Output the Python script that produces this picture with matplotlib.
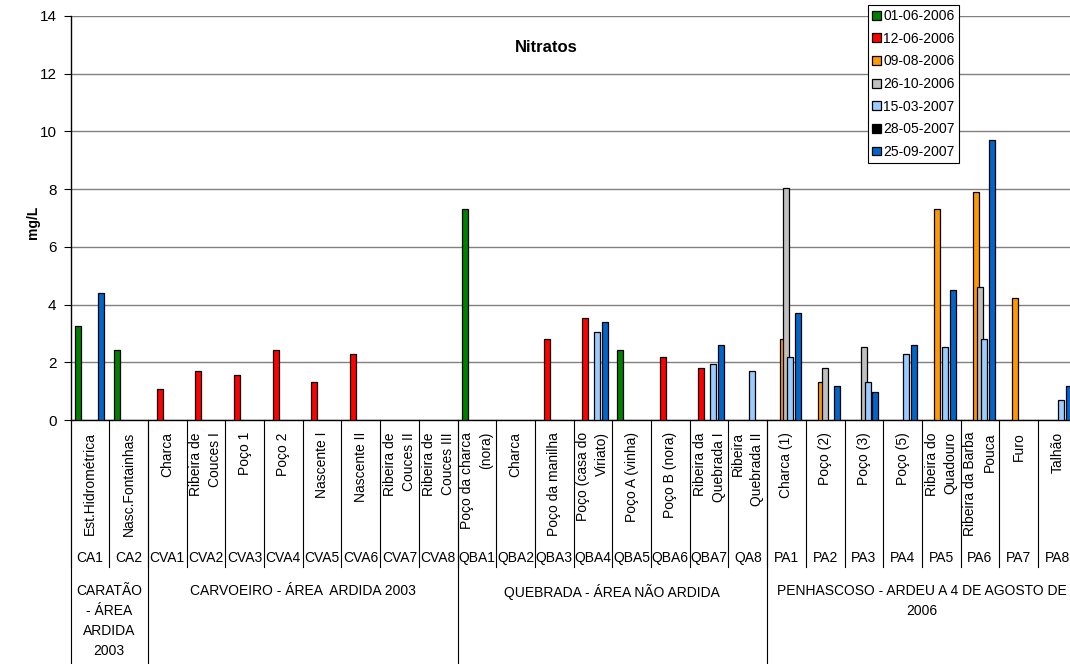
import matplotlib
matplotlib.use("Agg")
import matplotlib.pyplot as plt
import numpy as np
from matplotlib import font_manager
from matplotlib.transforms import blended_transform_factory

nan = np.nan

# sampling points (level 1 / level 2 of the category axis)
names = ["Est.Hidrométrica", "Nasc.Fontainhas",
         "Charca", "Ribeira de\nCouces I", "Poço 1", "Poço 2", "Nascente I",
         "Nascente II", "Ribeira de\nCouces II", "Ribeira de\nCouces III",
         "Poço da charca\n(nora)", "Charca", "Poço da manilha", "Poço (casa do\nViriato)",
         "Poço A (vinha)", "Poço B (nora)", "Ribeira da\nQuebrada I", "Ribeira\nQuebrada II",
         "Charca (1)", "Poço (2)", "Poço (3)", "Poço (5)", "Ribeira do\nQuadouro",
         "Ribeira da Barba\nPouca", "Furo", "Talhão"]
codes = ["CA1", "CA2",
         "CVA1", "CVA2", "CVA3", "CVA4", "CVA5", "CVA6", "CVA7", "CVA8",
         "QBA1", "QBA2", "QBA3", "QBA4", "QBA5", "QBA6", "QBA7", "QA8",
         "PA1", "PA2", "PA3", "PA4", "PA5", "PA6", "PA7", "PA8"]
groups = ["CARATÃO\n- ÁREA\nARDIDA\n2003", "CARVOEIRO - ÁREA  ARDIDA 2003",
          "QUEBRADA - ÁREA NÃO ARDIDA", "PENHASCOSO - ARDEU A 4 DE AGOSTO DE\n2006"]
group_sizes = [2, 8, 8, 8]

dates = ["01-06-2006", "12-06-2006", "09-08-2006", "26-10-2006",
         "15-03-2007", "28-05-2007", "25-09-2007"]
colors = ["#008000", "#FF0000", "#FF9900", "#C0C0C0", "#99CCFF", "#000000", "#0066CC"]

#            CA1   CA2   CVA1  CVA2  CVA3  CVA4  CVA5  CVA6  CVA7 CVA8 QBA1  QBA2 QBA3  QBA4  QBA5  QBA6  QBA7  QA8   PA1   PA2   PA3   PA4   PA5   PA6   PA7   PA8
d_01_06_06 = [3.27, 2.42, nan,  nan,  nan,  nan,  nan,  nan,  nan, nan, 7.30, nan, nan,  nan,  2.42, nan,  nan,  nan,  nan,  nan,  nan,  nan,  nan,  nan,  nan,  nan]
d_12_06_06 = [nan,  nan,  1.09, 1.70, 1.57, 2.42, 1.33, 2.30, nan, nan, nan,  nan, 2.79, 3.52, nan,  2.17, 1.81, nan,  nan,  nan,  nan,  nan,  nan,  nan,  nan,  nan]
d_09_08_06 = [nan,  nan,  nan,  nan,  nan,  nan,  nan,  nan,  nan, nan, nan,  nan, nan,  nan,  nan,  nan,  nan,  nan,  2.81, 1.33, nan,  nan,  7.30, 7.90, 4.24, nan]
d_26_10_06 = [nan,  nan,  nan,  nan,  nan,  nan,  nan,  nan,  nan, nan, nan,  nan, nan,  nan,  nan,  nan,  nan,  nan,  8.04, 1.81, 2.54, nan,  nan,  4.61, nan,  nan]
d_15_03_07 = [nan,  nan,  nan,  nan,  nan,  nan,  nan,  nan,  nan, nan, nan,  nan, nan,  3.05, nan,  nan,  1.94, 1.70, 2.17, nan,  1.33, 2.30, 2.54, 2.79, nan,  0.70]
d_28_05_07 = [nan] * 26
d_25_09_07 = [4.39, nan,  nan,  nan,  nan,  nan,  nan,  nan,  nan, nan, nan,  nan, nan,  3.39, nan,  nan,  2.60, nan,  3.70, 1.19, 0.98, 2.60, 4.49, 9.70, nan,  1.19]

series = [d_01_06_06, d_12_06_06, d_09_08_06, d_26_10_06, d_15_03_07, d_28_05_07, d_25_09_07]

installed = {f.name for f in font_manager.fontManager.ttflist}
if "Liberation Sans Narrow" in installed:
    fam = ["Liberation Sans Narrow", "DejaVu Sans"]
    fs = 11.5
else:
    fam = ["Liberation Sans", "DejaVu Sans"]
    fs = 10
plt.rcParams["font.family"] = fam

W, H = 1070, 664


def fy(px):
    return 1 - px / H


fig = plt.figure(figsize=(W / 100, H / 100), dpi=100)
col_w = 38.7
ax = fig.add_axes([70.5 / W, fy(420), len(codes) * col_w / W, (420 - 15.8) / H])

x = np.arange(len(codes))
step, width = 0.1, 0.155
for k, (vals, c, lab) in enumerate(zip(series, colors, dates)):
    ax.bar(x + (k - 3) * step, np.array(vals, dtype=float), width, color=c,
           edgecolor="black", linewidth=0.9, label=lab, zorder=3)

ax.set_xlim(-0.5, len(codes) - 0.5)
ax.set_ylim(0, 14)
ax.set_yticks(np.arange(0, 15, 2))
ax.set_xticks([])
ax.yaxis.grid(True, color="#808080", linewidth=1)
ax.set_axisbelow(True)
for s in ["top", "right"]:
    ax.spines[s].set_visible(False)
ax.spines["left"].set_linewidth(1)
ax.spines["bottom"].set_linewidth(1)
ax.tick_params(axis="y", direction="out", length=5, width=0.8, labelsize=fs + 1, pad=5)

fig.text(546 / W, fy(48), "Nitratos", ha="center", va="center", fontsize=12, fontweight="bold")
fig.text(33 / W, fy(222), "mg/L", ha="center", va="center", rotation=90, fontsize=10,
         fontweight="bold")

leg = ax.legend(loc="upper left", bbox_to_anchor=(868 / W, fy(5)), bbox_transform=fig.transFigure,
                fontsize=fs, frameon=True, fancybox=False, framealpha=1, edgecolor="black",
                handlelength=0.6, handleheight=0.6, handletextpad=0.2, labelspacing=0.62,
                borderpad=0.3, borderaxespad=0)
leg.get_frame().set_linewidth(0.8)

trans = blended_transform_factory(ax.transData, fig.transFigure)

# category labels
for i, (nm, cd) in enumerate(zip(names, codes)):
    ax.text(i, fy(432), nm, transform=trans, rotation=90, ha="center", va="top",
            multialignment="right", fontsize=fs, linespacing=1.45)
    ax.text(i, fy(558), cd, transform=trans, ha="center", va="center", fontsize=fs)

# category separators
for b in np.arange(-0.5, len(codes)):
    ax.plot([b, b], [fy(420), fy(567)], transform=trans, color="black", lw=0.8, clip_on=False)

start = 0
for g, n in zip(groups, group_sizes):
    ax.plot([start - 0.5, start - 0.5], [fy(420), fy(664)], transform=trans, color="black",
            lw=0.8, clip_on=False)
    ax.text(start + n / 2 - 0.5, fy(584), g, transform=trans, ha="center", va="top",
            fontsize=fs, linespacing=1.55)
    start += n

fig.savefig("out.png", dpi=100)
